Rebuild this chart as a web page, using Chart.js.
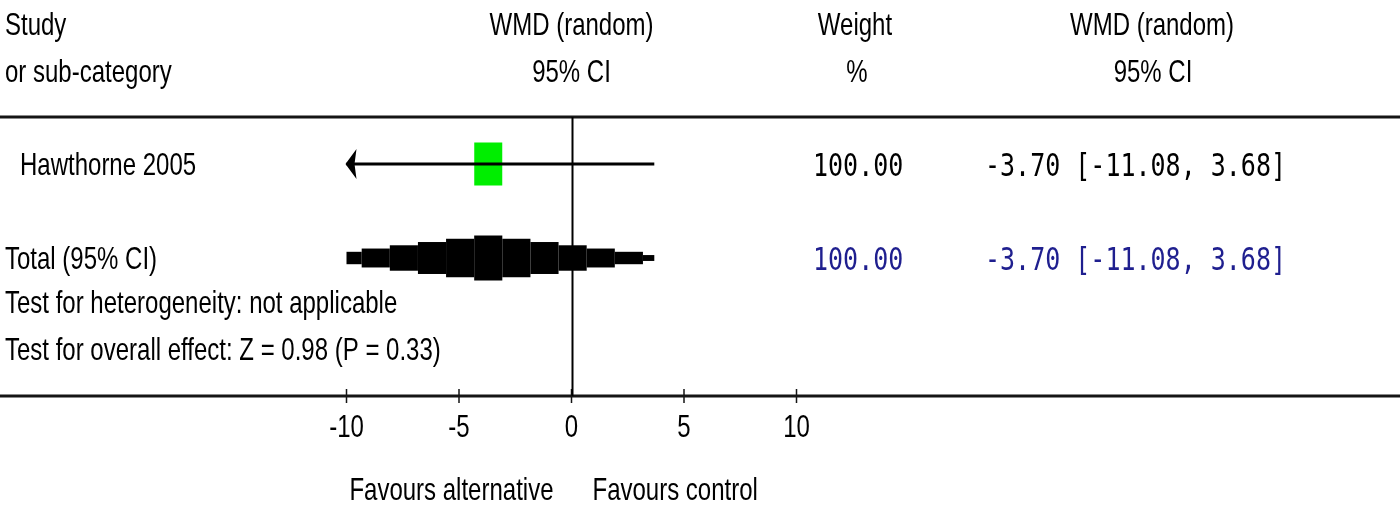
<!DOCTYPE html>
<html>
<head>
<meta charset="utf-8">
<script src="https://cdn.jsdelivr.net/npm/chart.js@4"></script>
<style>
  html, body { margin: 0; padding: 0; background: #ffffff; }
  #wrap { width: 1400px; height: 508px; position: relative; background: #ffffff; }
</style>
</head>
<body>
<div id="wrap"><canvas id="c" width="1400" height="508"></canvas></div>
<script>
// ---- data ----
const studyNames = ['Hawthorne 2005'];
const studyEstimates = [-3.70];
const studyLowers = [-11.08];
const studyUppers = [3.68];
const studyWeights = [100.00];

const totalLabel = 'Total (95% CI)';
const totalEstimate = [-3.70];
const totalLower = [-11.08];
const totalUpper = [3.68];
const totalWeight = [100.00];

const xTickValues = [-10, -5, 0, 5, 10];
const xTickLabels = ['-10', '-5', '0', '5', '10'];

const headerLeft = ['Study', 'or sub-category'];
const headerPlot = ['WMD (random)', '95% CI'];
const headerWeight = ['Weight', '%'];
const headerRight = ['WMD (random)', '95% CI'];
const testLines = ['Test for heterogeneity: not applicable', 'Test for overall effect: Z = 0.98 (P = 0.33)'];
const favourLabels = ['Favours alternative', 'Favours control'];

// ---- styles ----
const SANS = '24px "Liberation Sans", Arial, sans-serif';
const MONO = '25px "DejaVu Sans Mono", monospace';
const SANS_SY = 1.33;
const MONO_SY = 1.28;
const BLUE = '#1f1f8f';

function txt(ctx, s, x, y, align, font, color, sy) {
  ctx.save();
  ctx.font = font;
  ctx.fillStyle = color;
  ctx.textAlign = align;
  ctx.textBaseline = 'alphabetic';
  ctx.translate(x, y);
  ctx.scale(1, sy);
  ctx.fillText(s, 0, 0);
  ctx.restore();
}
const fmt = v => v.toFixed(2);

const forestPlugin = {
  id: 'forest',
  beforeDatasetsDraw(chart) {
    const ctx = chart.ctx;
    const xs = chart.scales.x, ys = chart.scales.y;
    const area = chart.chartArea;
    const W = chart.width;

    // horizontal rules
    ctx.save();
    ctx.strokeStyle = '#151515';
    ctx.lineWidth = 3;
    ctx.beginPath();
    ctx.moveTo(0, area.top); ctx.lineTo(W, area.top);
    ctx.moveTo(0, area.bottom); ctx.lineTo(W, area.bottom);
    ctx.stroke();

    // ticks crossing axis
    ctx.lineWidth = 1.5;
    ctx.beginPath();
    xTickValues.forEach(v => {
      const px = xs.getPixelForValue(v);
      ctx.moveTo(px, area.bottom - 7); ctx.lineTo(px, area.bottom + 7);
    });
    ctx.stroke();
    ctx.restore();

    // study squares
    ctx.save();
    ctx.beginPath();
    ctx.rect(area.left, area.top, area.right - area.left, area.bottom - area.top);
    ctx.clip();
    studyEstimates.forEach((est, i) => {
      const cx = xs.getPixelForValue(est);
      const cy = ys.getPixelForValue(i + 1);
      const w = 28 * studyWeights[i] / 100, h = 43 * studyWeights[i] / 100;
      ctx.fillStyle = '#00ee00';
      ctx.fillRect(cx - w / 2, cy - h / 2, w, h);
    });

    // total diamond (stepped)
    const row = studyNames.length + 1;
    const cy = ys.getPixelForValue(row);
    const est = totalEstimate[0], lo = totalLower[0], hi = totalUpper[0];
    const step = 1.25, H = 22.5;
    ctx.fillStyle = '#000';
    for (let k = -12; k <= 12; k++) {
      let a = est + (k - 0.5) * step, b = est + (k + 0.5) * step;
      a = Math.max(a, lo); b = Math.min(b, hi);
      if (b <= a) continue;
      const span = (k < 0 ? est - lo : hi - est) + step;
      let hh = H * (1 - Math.abs(k) * step / span);
      if (hh < 2.2) hh = 2.2;
      const pa = xs.getPixelForValue(a), pb = xs.getPixelForValue(b);
      ctx.fillRect(pa, cy - hh, pb - pa, hh * 2);
    }
    ctx.restore();

    // zero line
    ctx.save();
    ctx.strokeStyle = '#000';
    ctx.lineWidth = 2;
    const zx = Math.round(xs.getPixelForValue(0)) + 0.5;
    ctx.beginPath();
    ctx.moveTo(zx, area.top); ctx.lineTo(zx, area.bottom);
    ctx.stroke();
    ctx.restore();
  },
  afterDatasetsDraw(chart) {
    const ctx = chart.ctx;
    const xs = chart.scales.x, ys = chart.scales.y;
    const area = chart.chartArea;

    // arrows for clipped CIs
    studyEstimates.forEach((est, i) => {
      const cy = ys.getPixelForValue(i + 1);
      ctx.save();
      ctx.fillStyle = '#000';
      if (studyLowers[i] < xs.min) {
        const px = xs.getPixelForValue(xs.min);
        ctx.beginPath();
        ctx.moveTo(px - 1, cy);
        ctx.lineTo(px + 10, cy - 15);
        ctx.lineTo(px + 8, cy);
        ctx.lineTo(px + 10, cy + 15);
        ctx.closePath();
        ctx.fill();
      }
      if (studyUppers[i] > xs.max) {
        const px = xs.getPixelForValue(xs.max);
        ctx.beginPath();
        ctx.moveTo(px + 1, cy);
        ctx.lineTo(px - 10, cy - 15);
        ctx.lineTo(px - 8, cy);
        ctx.lineTo(px - 10, cy + 15);
        ctx.closePath();
        ctx.fill();
      }
      ctx.restore();
    });

    const zx = xs.getPixelForValue(0);
    // headers
    txt(ctx, headerLeft[0], 5, 35, 'left', SANS, '#000', SANS_SY);
    txt(ctx, headerLeft[1], 5, 82, 'left', SANS, '#000', SANS_SY);
    txt(ctx, headerPlot[0], zx, 35, 'center', SANS, '#000', SANS_SY);
    txt(ctx, headerPlot[1], zx, 82, 'center', SANS, '#000', SANS_SY);
    txt(ctx, headerWeight[0], 855, 35, 'center', SANS, '#000', SANS_SY);
    txt(ctx, headerWeight[1], 857, 82, 'center', SANS, '#000', SANS_SY);
    txt(ctx, headerRight[0], 1152, 35, 'center', SANS, '#000', SANS_SY);
    txt(ctx, headerRight[1], 1153, 82, 'center', SANS, '#000', SANS_SY);

    // study rows
    studyNames.forEach((name, i) => {
      const by = ys.getPixelForValue(i + 1) + 11;
      txt(ctx, name, 20, by, 'left', SANS, '#000', SANS_SY);
      txt(ctx, fmt(studyWeights[i]), 813, by + 1, 'left', MONO, '#000', MONO_SY);
      txt(ctx, `${fmt(studyEstimates[i])} [${fmt(studyLowers[i])}, ${fmt(studyUppers[i])}]`, 985, by + 1, 'left', MONO, '#000', MONO_SY);
    });

    // total row
    const trow = studyNames.length + 1;
    const tb = ys.getPixelForValue(trow) + 11;
    txt(ctx, totalLabel, 5, tb, 'left', SANS, '#000', SANS_SY);
    txt(ctx, fmt(totalWeight[0]), 813, tb + 1, 'left', MONO, BLUE, MONO_SY);
    txt(ctx, `${fmt(totalEstimate[0])} [${fmt(totalLower[0])}, ${fmt(totalUpper[0])}]`, 985, tb + 1, 'left', MONO, BLUE, MONO_SY);

    // tests
    txt(ctx, testLines[0], 5, 313, 'left', SANS, '#000', SANS_SY);
    txt(ctx, testLines[1], 5, 360, 'left', SANS, '#000', SANS_SY);

    // tick labels
    xTickValues.forEach((v, i) => {
      txt(ctx, xTickLabels[i], xs.getPixelForValue(v), area.bottom + 41, 'center', SANS, '#000', SANS_SY);
    });

    // favours
    txt(ctx, favourLabels[0], zx - 18, 500, 'right', SANS, '#000', SANS_SY);
    txt(ctx, favourLabels[1], zx + 21, 500, 'left', SANS, '#000', SANS_SY);
  }
};

const ciData = [];
studyEstimates.forEach((e, i) => {
  ciData.push({ x: studyLowers[i], y: i + 1 });
  ciData.push({ x: studyUppers[i], y: i + 1 });
});

new Chart(document.getElementById('c'), {
  type: 'scatter',
  data: {
    datasets: [{
      label: 'CI',
      data: ciData,
      showLine: true,
      borderColor: '#000',
      borderWidth: 3,
      pointRadius: 0,
      fill: false,
      clip: 0
    }]
  },
  options: {
    responsive: false,
    animation: false,
    events: [],
    layout: { padding: { left: 346.5, right: 603.5, top: 117, bottom: 112 } },
    plugins: { legend: { display: false }, tooltip: { enabled: false } },
    scales: {
      x: { type: 'linear', min: -10, max: 10, display: false },
      y: { type: 'linear', min: 0.5, max: 3.468, reverse: true, display: false }
    }
  },
  plugins: [forestPlugin]
});
</script>
</body>
</html>
